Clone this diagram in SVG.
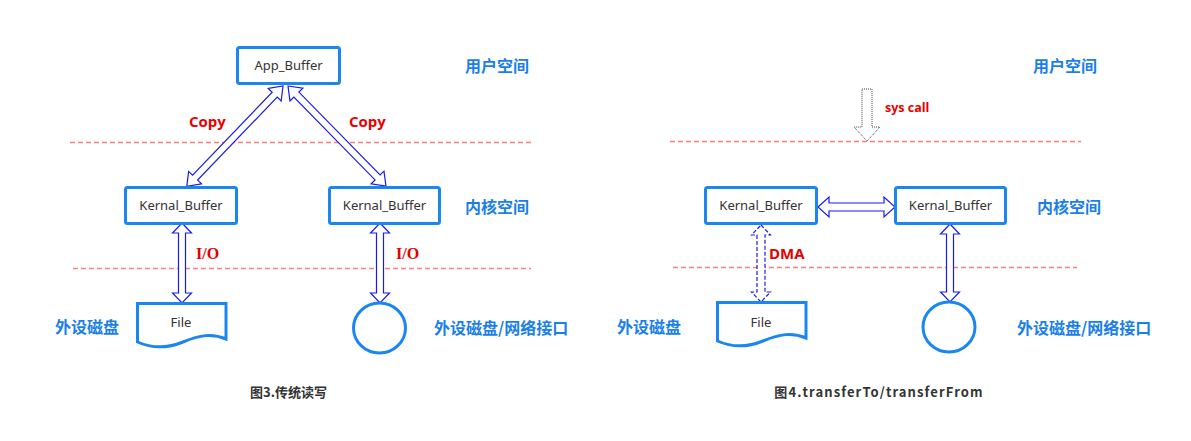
<svg xmlns="http://www.w3.org/2000/svg" width="1191" height="441" viewBox="0 0 1191 441">
<defs>
<style>
.box{fill:#fff;stroke:#1a86f0;stroke-width:3}
.bt{font-family:"Noto Sans","Open Sans",sans-serif;font-size:13px;fill:#333;text-anchor:middle}
.zone{font-family:"Noto Sans CJK SC",sans-serif;font-weight:bold;font-size:16px;fill:#1a7fe8}
.red{font-family:"Open Sans","Noto Sans",sans-serif;font-weight:bold;font-size:15px;fill:#e60000}
.serif{font-family:"Liberation Serif",serif;font-weight:bold;font-size:16px;fill:#e60000}
.cap{font-family:"Noto Sans CJK SC",sans-serif;font-weight:bold;font-size:13px;fill:#333;text-anchor:middle}
.dash{stroke:#ff7b7b;stroke-width:1.3;stroke-dasharray:5 3;fill:none}
.arr{fill:#fff;stroke:#1a1af0;stroke-width:1.2;stroke-linejoin:miter}
.arrd{fill:#fff;stroke:#1a1af0;stroke-width:1.2;stroke-dasharray:4 2}
.sys{fill:#fff;stroke:#444;stroke-width:1;stroke-dasharray:1 1}
</style>
</defs>
<rect width="1191" height="441" fill="#fff"/>

<g id="dashes">
<line class="dash" x1="70" y1="142.5" x2="534" y2="142.5"/>
<line class="dash" x1="73" y1="268.5" x2="531" y2="268.5"/>
<line class="dash" x1="670" y1="141.5" x2="1081" y2="141.5"/>
<line class="dash" x1="673" y1="267.5" x2="1077" y2="267.5"/>
</g>

<g id="connectors">
<polygon class="arr" transform="translate(283,86) rotate(133.8)" points="0,0 12,-9 12,-3.5 127,-3.5 127,-9 139,0 127,9 127,3.5 12,3.5 12,9"/>
<polygon class="arr" transform="translate(288,86) rotate(45.6)" points="0,0 12,-9 12,-3.5 128,-3.5 128,-9 140,0 128,9 128,3.5 12,3.5 12,9"/>
<polygon class="arr" transform="translate(182,223) rotate(90)" points="0,0 10,-9.5 10,-3.5 70,-3.5 70,-9.5 80,0 70,9.5 70,3.5 10,3.5 10,9.5"/>
<polygon class="arr" transform="translate(380,223) rotate(90)" points="0,0 10,-9.5 10,-3.5 70,-3.5 70,-9.5 80,0 70,9.5 70,3.5 10,3.5 10,9.5"/>
<polygon class="arr" transform="translate(818,207)" points="0,0 11,-10 11,-4 66,-4 66,-10 77,0 66,10 66,4 11,4 11,10"/>
<polygon class="arrd" transform="translate(761,225) rotate(90)" points="0,0 10,-9.5 10,-4 67,-4 67,-9.5 77,0 67,9.5 67,4 10,4 10,9.5"/>
<polygon class="arr" transform="translate(950,224) rotate(90)" points="0,0 10,-9.5 10,-3.5 68,-3.5 68,-9.5 78,0 68,9.5 68,3.5 10,3.5 10,9.5"/>
<polygon class="sys" points="862,89 872,89 872,127 880,127 867,141 854,127 862,127"/>
</g>

<g id="app_buffer">
<rect class="box" x="237.5" y="47.5" width="102" height="36" rx="2"/>
<text class="bt" x="288.5" y="70">App_Buffer</text>
</g>
<g id="kernal_l1">
<rect class="box" x="125.5" y="187.5" width="111" height="36" rx="2"/>
<text class="bt" x="181" y="210">Kernal_Buffer</text>
</g>
<g id="kernal_l2">
<rect class="box" x="329.5" y="187.5" width="110" height="36" rx="2"/>
<text class="bt" x="384.5" y="210">Kernal_Buffer</text>
</g>
<g id="file_l">
<path class="box" d="M137.5,303.5 H226 V339 C212,333 200,335 183,342 C166,349 151,348 137.5,342 Z"/>
<text class="bt" x="181" y="327">File</text>
</g>
<g id="circle_l">
<ellipse class="box" cx="379.5" cy="328" rx="26" ry="25"/>
</g>

<g id="kernal_r1">
<rect class="box" x="705.5" y="187.5" width="111" height="36" rx="2"/>
<text class="bt" x="761" y="210">Kernal_Buffer</text>
</g>
<g id="kernal_r2">
<rect class="box" x="895.5" y="187.5" width="110" height="36" rx="2"/>
<text class="bt" x="950.5" y="210">Kernal_Buffer</text>
</g>
<g id="file_r">
<path class="box" d="M717.5,302.5 H806 V338 C792,332 780,334 763,341 C746,348 731,347 717.5,341 Z"/>
<text class="bt" x="761" y="327">File</text>
</g>
<g id="circle_r">
<ellipse class="box" cx="949" cy="327" rx="26" ry="25"/>
</g>

<g id="labels">
<text class="zone" x="465" y="72">用户空间</text>
<text class="zone" x="465" y="213">内核空间</text>
<text class="zone" x="434" y="334">外设磁盘/网络接口</text>
<text class="zone" x="55" y="333">外设磁盘</text>
<text class="zone" x="1033" y="72">用户空间</text>
<text class="zone" x="1037" y="213">内核空间</text>
<text class="zone" x="1017" y="334">外设磁盘/网络接口</text>
<text class="zone" x="617" y="333">外设磁盘</text>
<text class="red" x="189" y="127">Copy</text>
<text class="red" x="349" y="127">Copy</text>
<text class="serif" x="196" y="259">I/O</text>
<text class="serif" x="396" y="259">I/O</text>
<text class="red" x="769" y="259">DMA</text>
<text class="red" style="font-size:12.5px" x="885" y="112">sys call</text>
<text class="cap" x="288.5" y="397">图3.传统读写</text>
<text class="cap" style="letter-spacing:1.1px" x="879" y="397">图4.transferTo/transferFrom</text>
</g>
</svg>
